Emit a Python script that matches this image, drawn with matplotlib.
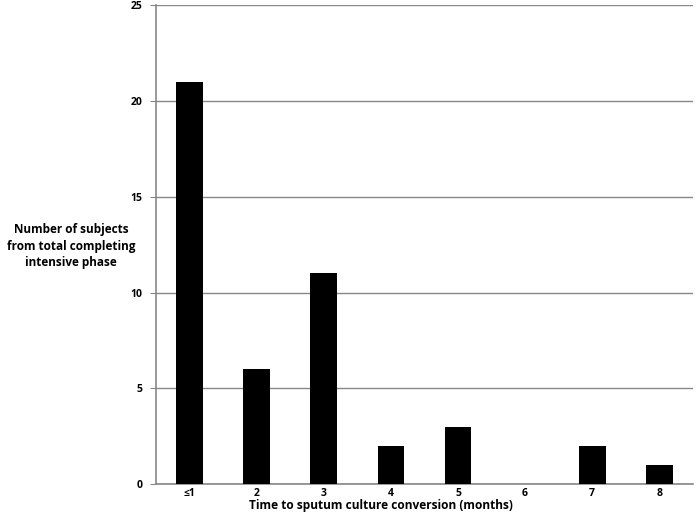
import matplotlib.pyplot as plt

months = ['≤1', '2', '3', '4', '5', '6', '7', '8']
subjects = [21, 6, 11, 2, 3, 0, 2, 1]
yticks = [0, 5, 10, 15, 20, 25]

plt.rcParams['font.family'] = ['Open Sans', 'DejaVu Sans']
plt.rcParams['font.weight'] = 'bold'

fig = plt.figure(figsize=(6.97, 5.15), dpi=100)
ax = fig.add_axes([0.224, 0.060, 0.770, 0.930])

x = range(len(months))
ax.bar(x, subjects, width=0.4, color='black', zorder=3)

ax.set_xlim(-0.5, len(months) - 0.5)
ax.set_ylim(0, 25)
ax.set_yticks(yticks)
ax.set_xticks(list(x))
ax.set_xticklabels(months)
ax.tick_params(axis='y', length=4, color='#888888', labelsize=7.5, pad=6)
ax.tick_params(axis='x', length=0, labelsize=7.5, pad=3)
for lab in ax.get_xticklabels() + ax.get_yticklabels():
    lab.set_fontweight('bold')

ax.grid(axis='y', color='#888888', linewidth=1, zorder=0)
for s in ['top', 'right']:
    ax.spines[s].set_visible(False)
for s in ['left', 'bottom']:
    ax.spines[s].set_color('#888888')
    ax.spines[s].set_linewidth(1.2)

fig.text(0.547, 0.019, 'Time to sputum culture conversion (months)',
         ha='center', va='center', fontsize=8.6, fontweight='bold')
fig.text(0.102, 0.522, 'Number of subjects\nfrom total completing\nintensive phase',
         ha='center', va='center', fontsize=8.5, fontweight='bold', linespacing=1.35)

fig.savefig('out.png', dpi=100)
